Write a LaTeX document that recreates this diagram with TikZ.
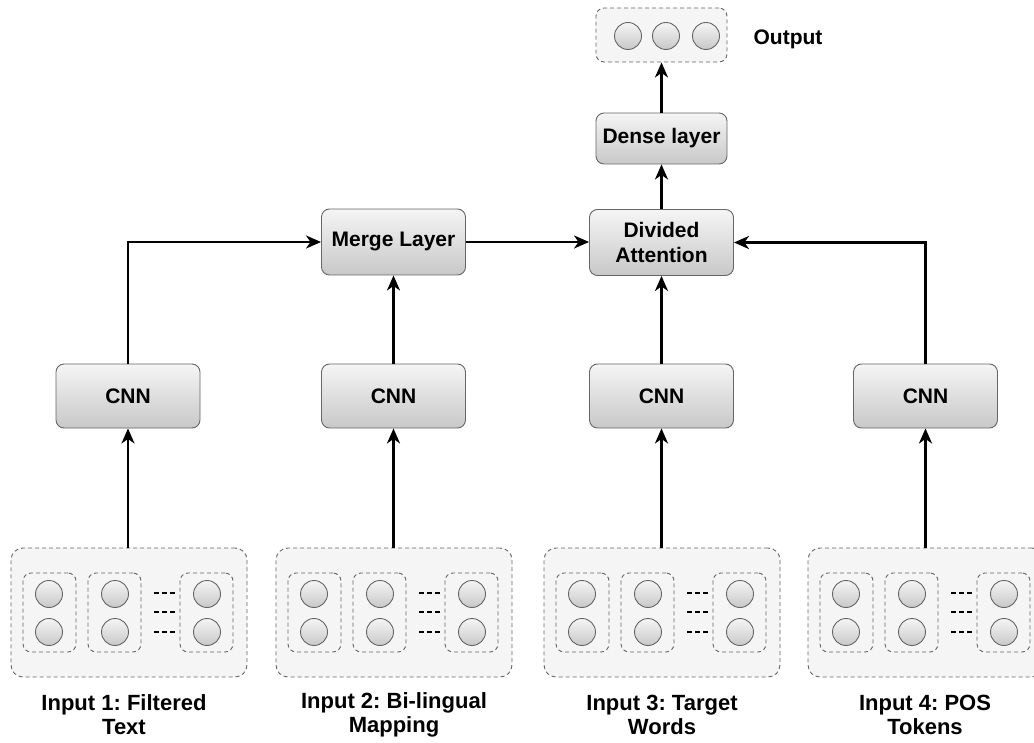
\documentclass[tikz,border=0pt]{standalone}
\usepackage{fontspec}
\setmainfont{Liberation Sans}
\usetikzlibrary{arrows.meta,calc}
\definecolor{bordergray}{HTML}{666666}
\definecolor{lightfill}{HTML}{F5F5F5}
\definecolor{darkfill}{HTML}{C8C8C8}
\frenchspacing
\begin{document}
\begin{tikzpicture}[x=1pt,y=-1pt,
  layerbox/.style={draw=bordergray, line width=0.9pt, rounded corners=8pt,
    top color=lightfill, bottom color=darkfill, minimum width=144pt,
    minimum height=64pt, inner sep=0pt, align=center,
    font=\fontsize{21}{25}\selectfont\bfseries},
  groupbox/.style={draw=bordergray, line width=0.9pt, dash pattern=on 4pt off 3pt,
    rounded corners=12pt, fill=lightfill, inner sep=0pt},
  cellbox/.style={draw=bordergray, line width=0.9pt, dash pattern=on 4pt off 3pt,
    rounded corners=8pt, inner sep=0pt, minimum width=53pt, minimum height=79pt},
  neuron/.style={circle, draw=bordergray, line width=0.9pt, top color=lightfill,
    bottom color=darkfill, minimum size=27pt, inner sep=0pt},
  dots/.style={line width=1.6pt, dash pattern=on 5pt off 3pt},
  arr/.style={line width=2.4pt, -{Stealth[length=15pt,width=13pt,inset=4.5pt]}},
  lbl/.style={align=center, font=\fontsize{22}{24}\selectfont\bfseries},
]
\useasboundingbox (0,0) rectangle (1034,743);

% input groups
\foreach \i/\x/\lx/\txt in {1/11/124/{Input 1: Filtered\\Text},
                     2/276/394/{Input 2: Bi-lingual\\Mapping},
                     3/544/662/{Input 3: Target\\Words},
                     4/808/925/{Input 4: POS\\Tokens}}{
  \node[groupbox, minimum width=236pt, minimum height=129pt] (in\i) at (\x+118,612.5) {};
  \node[cellbox] (c\i a) at (\x+38.5,612.5) {};
  \node[cellbox] (c\i b) at (\x+103.5,612.5) {};
  \node[cellbox] (c\i c) at (\x+195.5,612.5) {};
  \node[neuron] (n\i a1) at (\x+38,594) {};
  \node[neuron] (n\i a2) at (\x+38,632) {};
  \node[neuron] (n\i b1) at (\x+104,594) {};
  \node[neuron] (n\i b2) at (\x+104,632) {};
  \node[neuron] (n\i c1) at (\x+196,594) {};
  \node[neuron] (n\i c2) at (\x+196,632) {};
  \draw[dots] (\x+143,593) -- (\x+164,593);
  \draw[dots] (\x+143,612) -- (\x+164,612);
  \draw[dots] (\x+143,632) -- (\x+164,632);
  \node[lbl] (lab\i) at (\lx,715) {\txt};
}

% CNN layers
\node[layerbox] (cnn1) at (128,396) {CNN};
\node[layerbox] (cnn2) at (393.5,396) {CNN};
\node[layerbox] (cnn3) at (661.5,396) {CNN};
\node[layerbox] (cnn4) at (925.5,396) {CNN};

\node[layerbox, minimum height=66pt] (merge) at (393.5,242) {Merge Layer};
\node[layerbox, minimum height=66pt] (div) at (661.5,242.5) {Divided\\Attention};
\node[layerbox, minimum width=131pt, minimum height=51pt] (dense) at (661.5,138.5) {Dense layer};

% output
\node[groupbox, rounded corners=8pt, minimum width=131pt, minimum height=54pt] (outbox) at (661.5,35) {};
\node[neuron] (o1) at (628,36) {};
\node[neuron] (o2) at (666,36) {};
\node[neuron] (o3) at (706,36) {};
\node[font=\fontsize{21}{24}\selectfont\bfseries] (outlbl) at (788,39) {Output};

% connectors
\foreach \i in {1,2,3,4}{
  \draw[arr] (cnn\i.south |- in\i.north) -- (cnn\i.south);
}
\draw[arr] (cnn1.north) |- (merge.west);
\draw[arr] (cnn2.north) -- (merge.south);
\draw[arr] (merge.east) -- (merge.east -| div.west);
\draw[arr] (cnn3.north) -- (div.south);
\draw[arr] (cnn4.north) |- (div.east);
\draw[arr] (div.north) -- (dense.south);
\draw[arr] (dense.north) -- (outbox.south);
\end{tikzpicture}
\end{document}
